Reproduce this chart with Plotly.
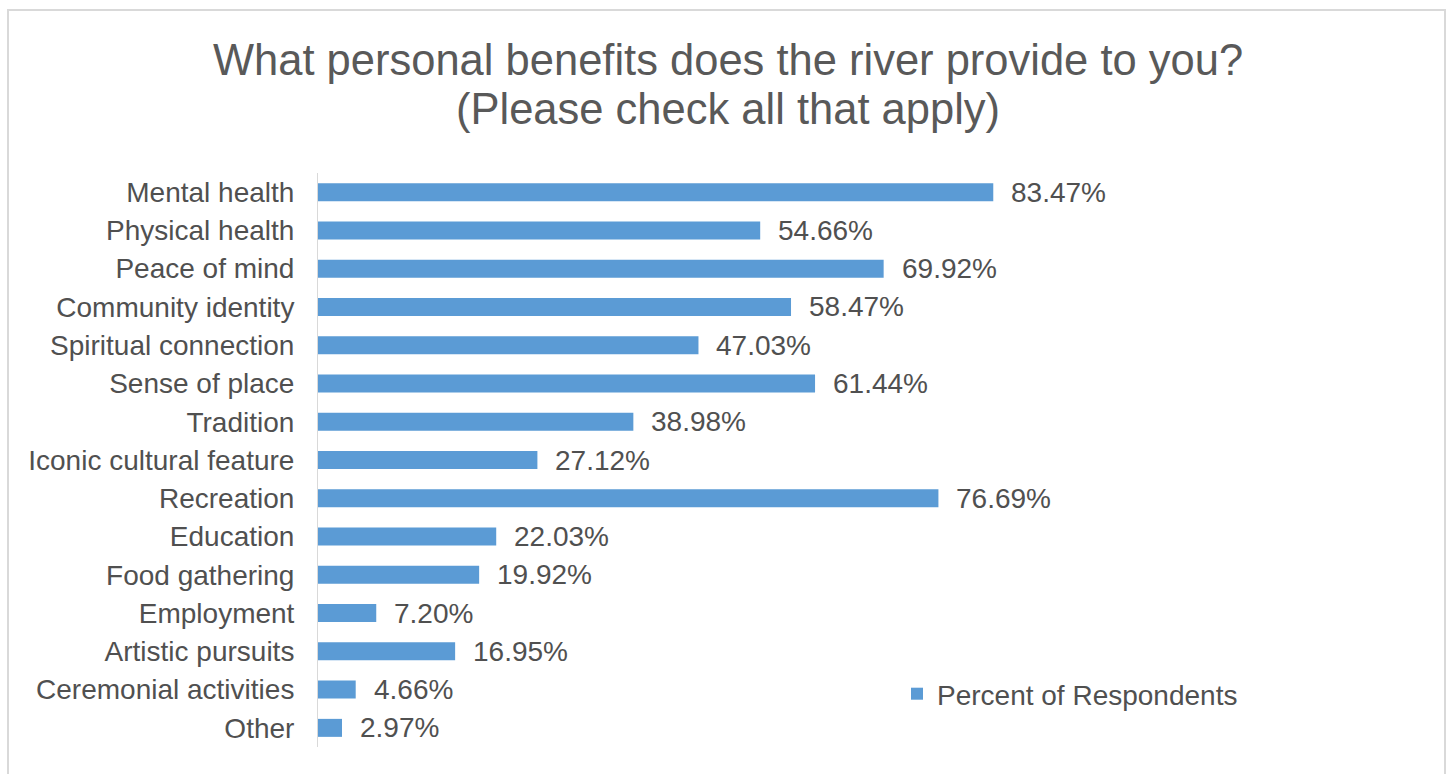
import plotly.graph_objects as go

categories = [
    "Mental health", "Physical health", "Peace of mind", "Community identity",
    "Spiritual connection", "Sense of place", "Tradition", "Iconic cultural feature",
    "Recreation", "Education", "Food gathering", "Employment",
    "Artistic pursuits", "Ceremonial activities", "Other",
]
percent = [83.47, 54.66, 69.92, 58.47, 47.03, 61.44, 38.98, 27.12,
           76.69, 22.03, 19.92, 7.20, 16.95, 4.66, 2.97]
series_name = "Percent of Respondents"
title_lines = ["What personal benefits does the river provide to you?",
               "(Please check all that apply)"]

BAR = "#5B9BD5"
TEXT = "#505050"
FONT = "Liberation Sans, Arial, sans-serif"

W, H = 1448, 774
L, R, T, B = 318, 321, 173, 27

fig = go.Figure()
fig.add_trace(go.Bar(
    x=percent, y=categories, orientation="h", name=series_name,
    marker=dict(color=BAR, line=dict(width=0)),
    showlegend=True,
))

# value labels to the right of each bar
for c, v in zip(categories, percent):
    fig.add_annotation(
        x=v, y=c, xref="x", yref="y", text=f"{v:.2f}%", showarrow=False,
        xanchor="left", xshift=16, font=dict(family=FONT, size=28, color=TEXT),
    )

pw, ph = W - L - R, H - T - B

# two-line chart title, each line placed separately for tighter leading
for line, ypx in zip(title_lines, [60, 109]):
    fig.add_annotation(
        x=(728 - L) / pw, y=(H - B - ypx) / ph, xref="paper", yref="paper",
        text=line, showarrow=False, xanchor="center", yanchor="middle",
        font=dict(family=FONT, size=43.5, color="#595959"),
    )

# outer chart border
fig.add_shape(
    type="rect", xref="paper", yref="paper",
    x0=(8 - L) / pw, x1=(1445 - L) / pw,
    y0=(H - B - 790) / ph, y1=(H - B - 10) / ph,
    line=dict(color="#D9D9D9", width=2), fillcolor="rgba(0,0,0,0)", layer="below",
)

fig.update_layout(
    width=W, height=H,
    margin=dict(l=L, r=R, t=T, b=B, pad=0),
    paper_bgcolor="white", plot_bgcolor="white",
    bargap=0.53,
    font=dict(family=FONT, size=28, color=TEXT),
    xaxis=dict(range=[0, 100], showticklabels=False, showgrid=False,
               zeroline=False, showline=False, ticks=""),
    yaxis=dict(categoryorder="array", categoryarray=categories[::-1],
               showgrid=False, zeroline=False, showline=True,
               linecolor="#D9D9D9", linewidth=1, ticks="",
               ticklabelstandoff=17,
               tickfont=dict(family=FONT, size=28, color=TEXT)),
    legend=dict(x=(897 - L) / pw, y=(H - B - 694) / ph, xanchor="left",
                yanchor="middle", bgcolor="rgba(0,0,0,0)",
                font=dict(family=FONT, size=28, color=TEXT),
                itemwidth=30),
)

fig.write_html("out.html")
